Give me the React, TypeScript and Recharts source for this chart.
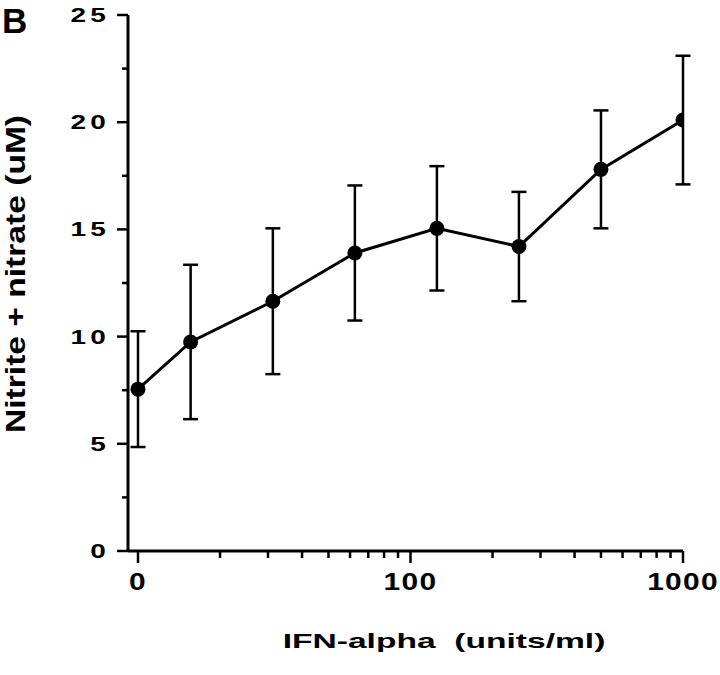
import React from "react";
import { LineChart, Line, XAxis, YAxis, ErrorBar } from "recharts";

// IFN-alpha doses (units/ml); the 0 dose is plotted at the axis position labelled "0"
const doses = [0, 15.6, 31.25, 62.5, 125, 250, 500, 1000];
const means = [7.55, 9.75, 11.65, 13.9, 15.05, 14.2, 17.8, 20.1];
const errors = [2.7, 3.6, 3.4, 3.15, 2.9, 2.55, 2.75, 3.0];

const zeroDosePosition = 10;
const xTicks = [10, 20, 30, 40, 50, 60, 70, 80, 90, 100, 200, 300, 400, 500, 600, 700, 800, 900, 1000];
const xMajorLabels: Record<number, string> = { 10: "0", 100: "100", 1000: "1000" };
const yTicks = [0, 2.5, 5, 7.5, 10, 12.5, 15, 17.5, 20, 22.5, 25];

const data = doses.map((d, i) => ({
  x: d === 0 ? zeroDosePosition : d,
  dose: d,
  mean: means[i],
  err: errors[i],
}));

const FONT = "'Liberation Sans', Arial, Helvetica, sans-serif";

const XTick = (props: any) => {
  const { x, y, payload } = props;
  const v = payload.value;
  const label = xMajorLabels[v];
  const major = label !== undefined;
  return (
    <g>
      <line x1={x} y1={y} x2={x} y2={y + (major ? 12 : 7)} stroke="#000" strokeWidth={2.5} />
      {major && (
        <g transform={`translate(${x},${y + 39}) scale(1.3,1)`}>
          <text x={0} y={0} textAnchor="middle" fontFamily={FONT} fontWeight="bold" fontSize={23} letterSpacing={1} fill="#000">
            {label}
          </text>
        </g>
      )}
    </g>
  );
};

const YTick = (props: any) => {
  const { x, y, payload } = props;
  const v = payload.value;
  const major = v % 5 === 0;
  return (
    <g>
      <line x1={x - (major ? 11 : 6)} y1={y} x2={x} y2={y} stroke="#000" strokeWidth={2.5} />
      {major && (
        <g transform={`translate(${x - 18},${y + 7}) scale(1.4,1)`}>
          <text x={0} y={0} textAnchor="end" fontFamily={FONT} fontWeight="bold" fontSize={20} letterSpacing={3} fill="#000">
            {String(v)}
          </text>
        </g>
      )}
    </g>
  );
};

export default function App() {
  return (
    <div style={{ position: "absolute", left: 0, top: 0, width: 720, height: 675, background: "#fff" }}>
      <LineChart
        width={720}
        height={675}
        data={data}
        margin={{ top: 15, right: 37, bottom: 64, left: 68 }}
      >
        <XAxis
          dataKey="x"
          type="number"
          scale="log"
          domain={[9.19, 1000]}
          allowDataOverflow
          ticks={xTicks}
          interval={0}
          tick={XTick}
          tickLine={false}
          tickSize={0}
          tickMargin={0}
          height={60}
          axisLine={{ stroke: "#000", strokeWidth: 3 }}
        />
        <YAxis
          type="number"
          domain={[0, 25]}
          ticks={yTicks}
          interval={0}
          tick={YTick}
          tickLine={false}
          tickSize={0}
          tickMargin={0}
          width={60}
          axisLine={{ stroke: "#000", strokeWidth: 3 }}
        />
        <Line
          dataKey="mean"
          stroke="#000"
          strokeWidth={3}
          dot={{ r: 7.5, fill: "#000", stroke: "#000", strokeWidth: 0 }}
          isAnimationActive={false}
        >
          <ErrorBar dataKey="err" direction="y" width={7.5} stroke="#000" strokeWidth={2.5} />
        </Line>
        <text x={2} y={33} fontFamily={FONT} fontWeight="bold" fontSize={35} fill="#000">B</text>
        <g transform="translate(444,648) scale(1.6,1)">
          <text x={0} y={0} textAnchor="middle" fontFamily={FONT} fontWeight="bold" fontSize={21} fill="#000" style={{ whiteSpace: "pre" }}>
            {"IFN-alpha  (units/ml)"}
          </text>
        </g>
        <g transform="translate(25,274) rotate(-90) scale(1.2,1)">
          <text x={0} y={0} textAnchor="middle" fontFamily={FONT} fontWeight="bold" fontSize={28} fill="#000">
            Nitrite + nitrate (uM)
          </text>
        </g>
      </LineChart>
    </div>
  );
}
